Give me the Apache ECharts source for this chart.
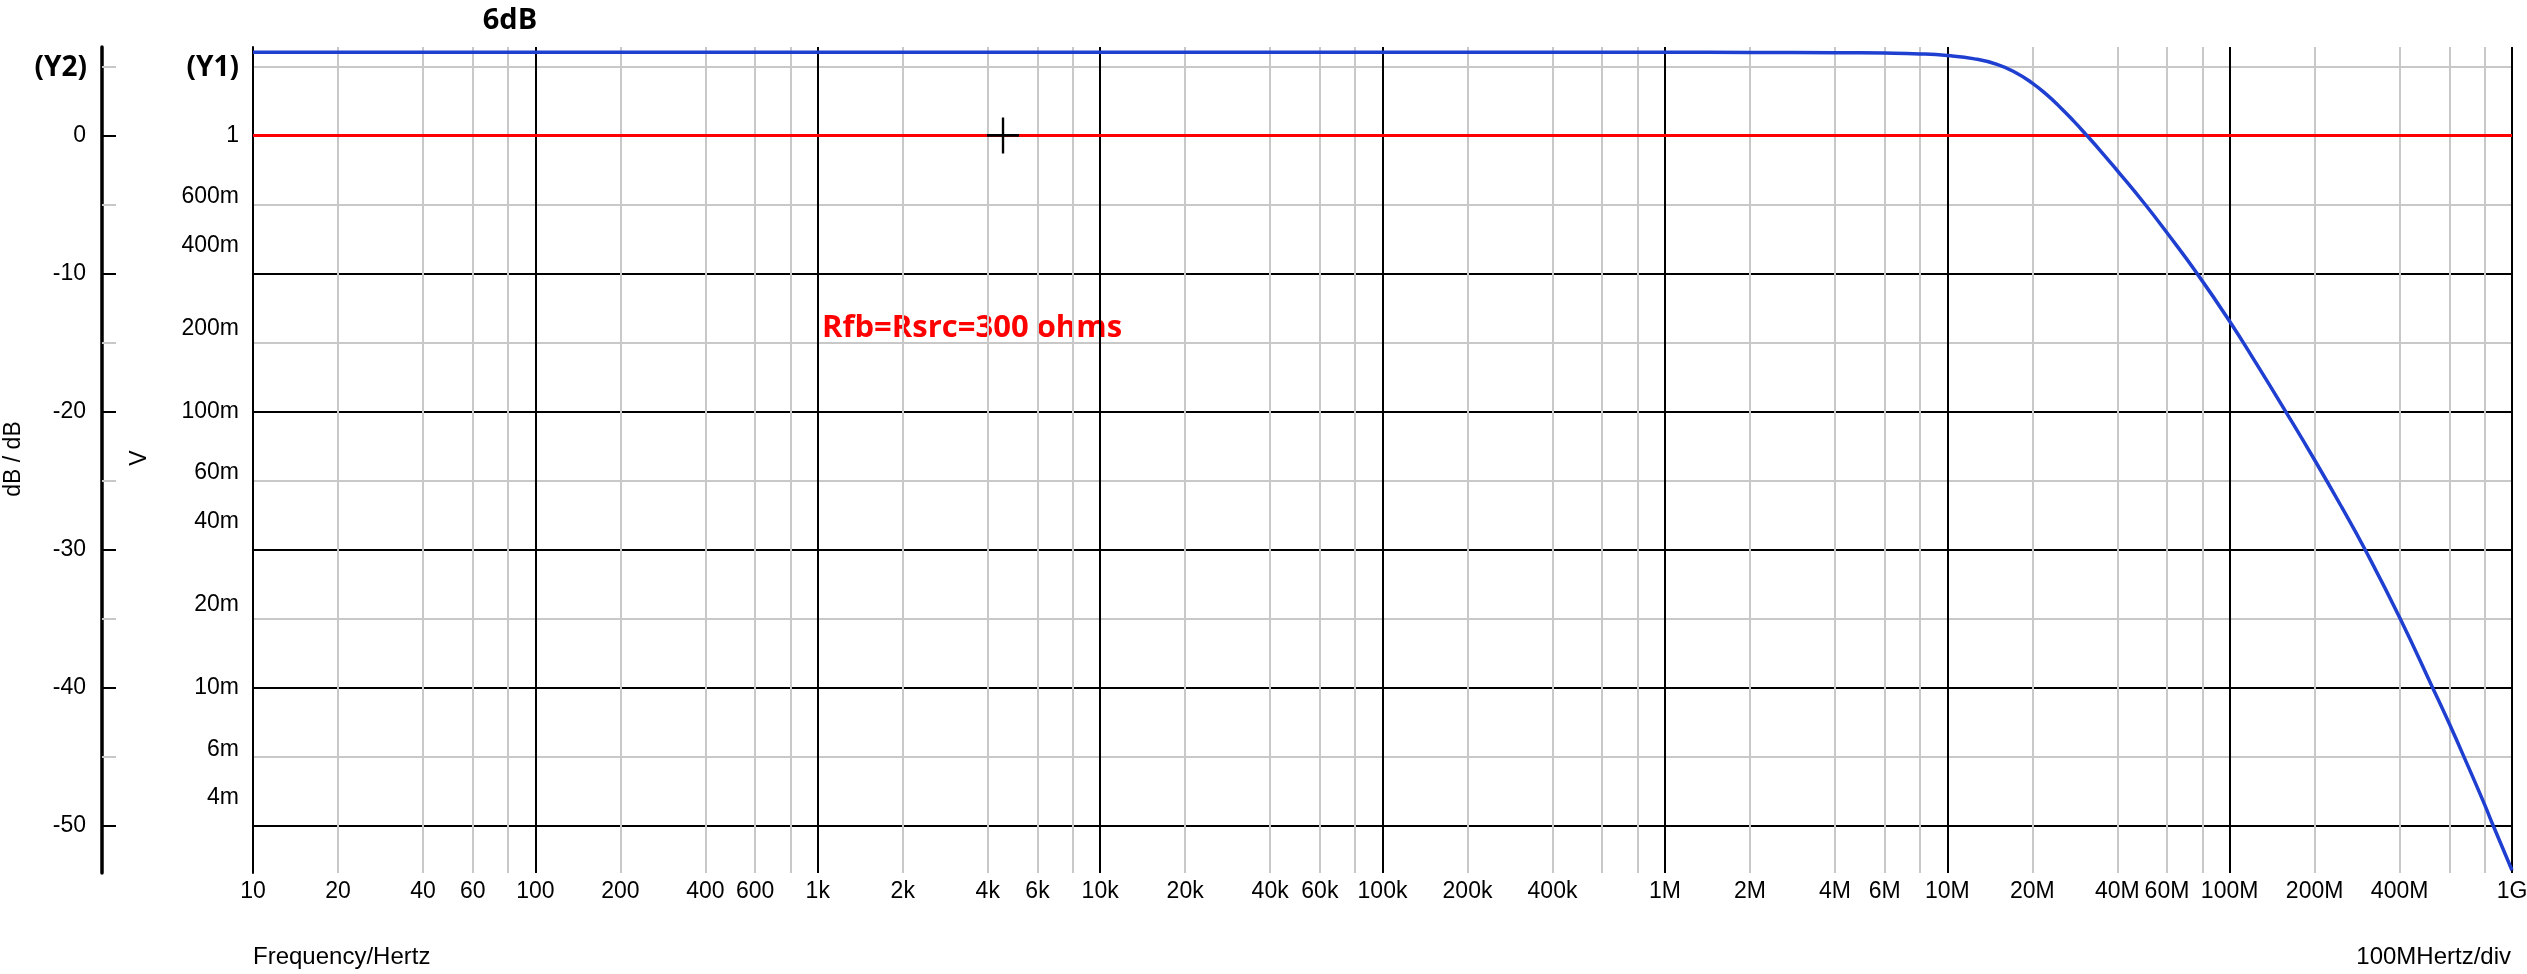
<!DOCTYPE html>
<html><head><meta charset="utf-8">
<script src="https://cdn.jsdelivr.net/npm/echarts@6/dist/echarts.min.js"></script>
<style>html,body{margin:0;padding:0;background:#fff}#c{width:2527px;height:974px}</style>
</head><body><div id="c"></div>
<script>
// ---- data ----
const gainFreqs = [10, 100, 1e3, 1e4, 1e5, 1e6, 2e6, 4e6, 6e6, 8e6, 10e6, 12.5e6, 15e6, 17.5e6, 20e6, 22.5e6, 25e6, 28e6, 31.2e6, 35e6, 40e6, 50e6, 60e6, 76.7e6, 100e6, 125e6, 158e6, 200e6, 250e6, 302e6, 400e6, 524e6, 600e6, 700e6, 800e6, 859e6, 1e9];
const gainDb = [6.02, 6.02, 6.02, 6.02, 6.02, 6.02, 6.01, 5.99, 5.96, 5.90, 5.78, 5.54, 5.14, 4.54, 3.79, 2.95, 2.08, 1.05, 0.0, -1.15, -2.55, -4.95, -7.05, -10.0, -13.45, -16.6, -20.0, -23.5, -26.95, -30.0, -34.9, -40.0, -42.6, -45.7, -48.45, -50.0, -53.2];
const refFreqs = [10, 1e9];
const refVolts = [1, 1];
const cursorFreqs = [4530];
const cursorVolts = [1];

const xTickFreqs = [10,20,40,60,100,200,400,600,1e3,2e3,4e3,6e3,1e4,2e4,4e4,6e4,1e5,2e5,4e5,1e6,2e6,4e6,6e6,1e7,2e7,4e7,6e7,1e8,2e8,4e8,1e9];
const xTickLabels = ['10','20','40','60','100','200','400','600','1k','2k','4k','6k','10k','20k','40k','60k','100k','200k','400k','1M','2M','4M','6M','10M','20M','40M','60M','100M','200M','400M','1G'];
const xMajorFreqs = [10,100,1e3,1e4,1e5,1e6,1e7,1e8,1e9];
const xMinorFreqs = [20,40,60,80,200,400,600,800,2e3,4e3,6e3,8e3,2e4,4e4,6e4,8e4,2e5,4e5,6e5,8e5,2e6,4e6,6e6,8e6,2e7,4e7,6e7,8e7,2e8,4e8,6e8,8e8];
const y2TickDb = [0,-10,-20,-30,-40,-50];
const y2TickLabels = ['0','-10','-20','-30','-40','-50'];
const y2MinorDb = [5,-5,-15,-25,-35,-45];
const y1TickVolts = [1,0.6,0.4,0.2,0.1,0.06,0.04,0.02,0.01,0.006,0.004];
const y1TickLabels = ['1','600m','400m','200m','100m','60m','40m','20m','10m','6m','4m'];

// ---- helpers ----
const lg = Math.log10;
const vToDb = v => 20 * lg(v);
const xTickLog = xTickFreqs.map(lg);
const y1TickDb = y1TickVolts.map(vToDb);
const pick = (vals, labels) => v => { const i = vals.findIndex(t => Math.abs(t - v) < 1e-6); return i >= 0 ? labels[i] : ''; };

const TICKFONT = "'Liberation Sans',Arial,sans-serif";
const BOLDFONT = "'Open Sans','Lato',sans-serif";
const FS = 23;
const GRAY = '#c8c8c8';
const BLACK = '#000';
const X_MIN = 1, X_MAX = 9, Y_MIN = -53.4, Y_MAX = 6.4;

const chart = echarts.init(document.getElementById('c'), null, {renderer: 'canvas'});
chart.setOption({
  animation: false,
  backgroundColor: '#fff',
  grid: {left: 253, right: 15, top: 47, bottom: 101, containLabel: false, outerBoundsMode: 'none'},
  xAxis: [
    { type: 'value', min: X_MIN, max: X_MAX, position: 'bottom',
      axisLine: {show: false}, axisLabel: {show: false},
      axisTick: {show: false, customValues: xMinorFreqs.map(lg)},
      splitLine: {show: true, lineStyle: {color: GRAY, width: 2}} },
    { type: 'value', min: X_MIN, max: X_MAX, position: 'bottom',
      axisLine: {show: false},
      axisTick: {show: false, customValues: xMajorFreqs.map(lg)},
      axisLabel: {show: true, customValues: xTickLog, formatter: pick(xTickLog, xTickLabels),
        color: '#000', fontSize: FS, fontFamily: TICKFONT, margin: 7},
      splitLine: {show: true, lineStyle: {color: BLACK, width: 2}} }
  ],
  yAxis: [
    { type: 'value', min: Y_MIN, max: Y_MAX, position: 'left', offset: 151,
      axisLine: {show: false}, axisLabel: {show: false},
      axisTick: {show: true, inside: true, length: 14, customValues: y2MinorDb, lineStyle: {color: GRAY, width: 2}},
      splitLine: {show: true, lineStyle: {color: GRAY, width: 2}} },
    { type: 'value', min: Y_MIN, max: Y_MAX, position: 'left', offset: 151,
      axisLine: {show: true, onZero: false, lineStyle: {color: BLACK, width: 3.5}},
      axisTick: {show: true, inside: true, length: 14, customValues: y2TickDb, lineStyle: {color: BLACK, width: 2}},
      axisLabel: {show: true, customValues: y2TickDb, formatter: pick(y2TickDb, y2TickLabels),
        color: '#000', fontSize: FS, fontFamily: TICKFONT, margin: 16},
      splitLine: {show: true, lineStyle: {color: BLACK, width: 2}} },
    { type: 'value', min: Y_MIN, max: Y_MAX, position: 'left', offset: 0,
      axisLine: {show: true, onZero: false, lineStyle: {color: BLACK, width: 2}},
      axisTick: {show: false},
      axisLabel: {show: true, customValues: y1TickDb, formatter: pick(y1TickDb, y1TickLabels),
        color: '#000', fontSize: FS, fontFamily: TICKFONT, margin: 14},
      splitLine: {show: false} }
  ],
  series: [
    { type: 'line', name: 'ref', xAxisIndex: 1, yAxisIndex: 1, showSymbol: false, symbol: 'none',
      lineStyle: {color: '#ff0000', width: 3},
      data: refFreqs.map((f, i) => [lg(f), vToDb(refVolts[i])]) },
    { type: 'line', name: 'gain', xAxisIndex: 1, yAxisIndex: 1, showSymbol: false, symbol: 'none',
      smooth: 0.5,
      lineStyle: {color: '#1f3fd0', width: 3.5},
      data: gainFreqs.map((f, i) => [lg(f), gainDb[i]]) },
    { type: 'scatter', name: 'cursor', xAxisIndex: 1, yAxisIndex: 1, z: 5,
      symbol: 'path://M16,0L16,36M0,18L32,18', symbolSize: [32, 36],
      itemStyle: {color: 'none', borderColor: '#000', borderWidth: 2.5, opacity: 1},
      data: cursorFreqs.map((f, i) => [lg(f), vToDb(cursorVolts[i])]) }
  ],
  graphic: [
    {type: 'text', x: 510, y: 21, style: {text: '6dB', fill: '#000', font: "bold 29px " + BOLDFONT, textAlign: 'center', textVerticalAlign: 'middle'}},
    {type: 'text', x: 87, y: 68, style: {text: '(Y2)', fill: '#000', font: "bold 28px " + BOLDFONT, textAlign: 'right', textVerticalAlign: 'middle'}},
    {type: 'text', x: 239, y: 68, style: {text: '(Y1)', fill: '#000', font: "bold 28px " + BOLDFONT, textAlign: 'right', textVerticalAlign: 'middle'}},
    {type: 'text', x: 822, y: 328, style: {text: 'Rfb=Rsrc=300 ohms', fill: '#ff0000', font: "bold 31px " + BOLDFONT, textAlign: 'left', textVerticalAlign: 'middle'}},
    {type: 'text', x: 14, y: 459, rotation: Math.PI / 2, style: {text: 'dB / dB', fill: '#000', font: FS + "px " + TICKFONT, textAlign: 'center', textVerticalAlign: 'middle'}},
    {type: 'text', x: 140, y: 458, rotation: Math.PI / 2, style: {text: 'V', fill: '#000', font: FS + "px " + TICKFONT, textAlign: 'center', textVerticalAlign: 'middle'}},
    {type: 'text', x: 253, y: 957, style: {text: 'Frequency/Hertz', fill: '#000', font: "24px " + TICKFONT, textAlign: 'left', textVerticalAlign: 'middle'}},
    {type: 'text', x: 2511, y: 957, style: {text: '100MHertz/div', fill: '#000', font: "24px " + TICKFONT, textAlign: 'right', textVerticalAlign: 'middle'}}
  ]
});
</script>
</body></html>
